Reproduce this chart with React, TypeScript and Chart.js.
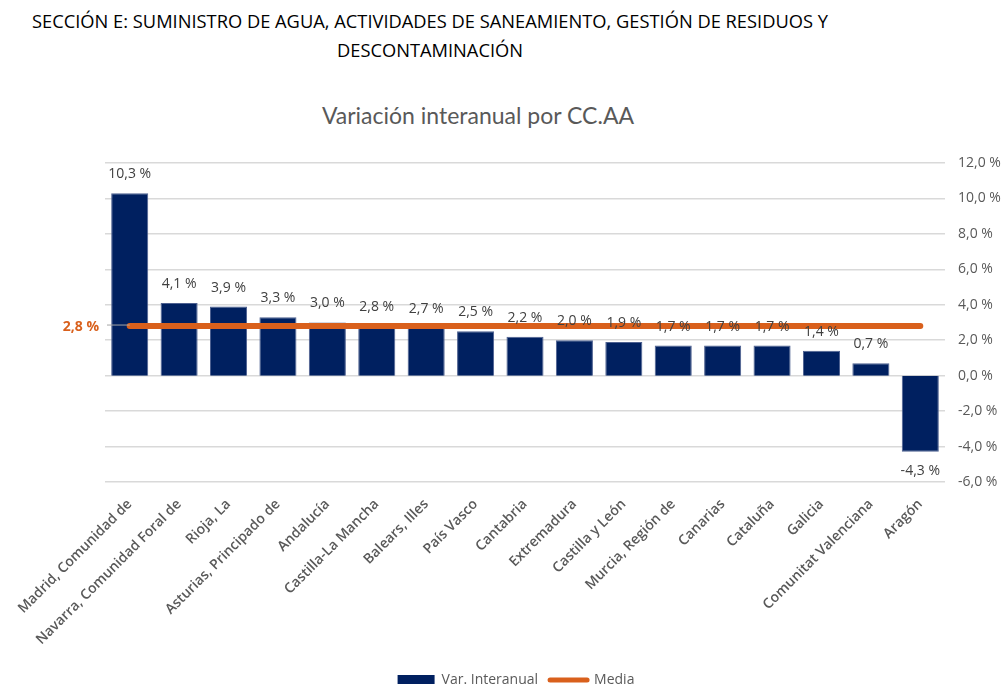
import React, { useEffect, useRef } from "react";
import { Chart, registerables } from "chart.js";

Chart.register(...registerables);

const categories = [
  "Madrid, Comunidad de",
  "Navarra, Comunidad Foral de",
  "Rioja, La",
  "Asturias, Principado de",
  "Andalucía",
  "Castilla-La Mancha",
  "Balears, Illes",
  "País Vasco",
  "Cantabria",
  "Extremadura",
  "Castilla y León",
  "Murcia, Región de",
  "Canarias",
  "Cataluña",
  "Galicia",
  "Comunitat Valenciana",
  "Aragón",
];

const variacion = [10.3, 4.1, 3.9, 3.3, 3.0, 2.8, 2.7, 2.5, 2.2, 2.0, 1.9, 1.7, 1.7, 1.7, 1.4, 0.7, -4.3];
const mediaValue = 2.8;
const media = categories.map(() => mediaValue);

const yMin = -6;
const yMax = 12;
const yStep = 2;

const NAVY = "#002060";
const ORANGE = "#D9601C";
const FONT = "'Open Sans', 'Noto Sans', sans-serif";

const fmt = (v: number) => v.toFixed(1).replace(".", ",") + " %";

const barLabels = {
  id: "barLabels",
  afterDatasetsDraw(chart: any) {
    const meta = chart.getDatasetMeta(0);
    const ctx = chart.ctx;
    ctx.save();
    ctx.font = `400 14px ${FONT}`;
    ctx.fillStyle = "#404040";
    ctx.textAlign = "center";
    ctx.textBaseline = "middle";
    meta.data.forEach((el: any, i: number) => {
      const v = variacion[i];
      const y = v >= 0 ? el.y - 19 : el.y + 19;
      ctx.fillText(fmt(v), el.x, y);
    });
    ctx.restore();
  },
};

const mediaLabel = {
  id: "mediaLabel",
  afterDatasetsDraw(chart: any) {
    const ctx = chart.ctx;
    const y = chart.scales.y.getPixelForValue(mediaValue);
    const left = chart.chartArea.left;
    const firstX = chart.getDatasetMeta(1).data[0].x;
    ctx.save();
    ctx.strokeStyle = "#A6A6A6";
    ctx.lineWidth = 1;
    ctx.beginPath();
    ctx.moveTo(left + 2, y - 1);
    ctx.lineTo(firstX, y - 1);
    ctx.stroke();
    ctx.font = `700 14px ${FONT}`;
    ctx.fillStyle = ORANGE;
    ctx.textAlign = "right";
    ctx.textBaseline = "middle";
    ctx.fillText(fmt(mediaValue), left - 6, y + 1);
    ctx.restore();
  },
};

export default function App() {
  const ref = useRef<HTMLCanvasElement | null>(null);

  useEffect(() => {
    document.body.style.margin = "0";
    if (!ref.current) return;
    const chart = new Chart(ref.current, {
      type: "bar",
      data: {
        labels: categories,
        datasets: [
          {
            type: "bar",
            label: "Var. Interanual",
            data: variacion,
            backgroundColor: NAVY,
            borderColor: "#4d6090",
            borderWidth: 1,
            barPercentage: 0.75,
            categoryPercentage: 1,
            order: 2,
          },
          {
            type: "line",
            label: "Media",
            data: media,
            borderColor: ORANGE,
            backgroundColor: ORANGE,
            borderWidth: 6,
            borderCapStyle: "round",
            pointRadius: 0,
            pointHoverRadius: 0,
            order: 1,
          } as any,
        ],
      },
      options: {
        responsive: false,
        animation: false,
        layout: { padding: { left: 26, top: 163, right: 0, bottom: -13 } },
        scales: {
          x: {
            grid: { display: false },
            border: { display: false },
            ticks: {
              minRotation: 45,
              maxRotation: 45,
              autoSkip: false,
              color: "#595959",
              padding: 6,
              font: { family: FONT, size: 14, weight: 600 as any },
            },
            afterFit: (s: any) => {
              s.height = 179;
            },
          },
          yLeft: {
            position: "left",
            display: true,
            grid: { display: false },
            border: { display: false },
            ticks: { display: false },
            afterFit: (s: any) => {
              s.width = 79;
            },
          },
          y: {
            position: "right",
            min: yMin,
            max: yMax,
            border: { display: false },
            grid: { color: "#D9D9D9", lineWidth: 1.5, drawTicks: false },
            ticks: {
              stepSize: yStep,
              padding: 13,
              color: "#595959",
              font: { family: FONT, size: 14 },
              callback: (v: any) => fmt(Number(v)),
            },
            afterFit: (s: any) => {
              s.width = 61;
            },
          },
        },
        plugins: {
          tooltip: { enabled: false },
          legend: {
            position: "bottom",
            labels: {
              usePointStyle: true,
              pointStyleWidth: 37,
              boxWidth: 37,
              boxHeight: 10,
              padding: 12,
              color: "#595959",
              font: { family: FONT, size: 14 },
              generateLabels: (c: any) =>
                Chart.defaults.plugins.legend.labels
                  .generateLabels(c)
                  .map((l: any) =>
                    l.datasetIndex === 0
                      ? { ...l, pointStyle: "rect", lineWidth: 0 }
                      : { ...l, pointStyle: "line", lineWidth: 5, lineCap: "round" }
                  )
                  .sort((a: any, b: any) => a.datasetIndex - b.datasetIndex),
            },
          },
        },
      },
      plugins: [barLabels, mediaLabel],
    });
    return () => chart.destroy();
  }, []);

  return (
    <div style={{ position: "relative", width: 1006, height: 684, background: "#fff", overflow: "hidden" }}>
      <div
        style={{
          position: "absolute",
          left: 0,
          width: 860,
          top: 6,
          textAlign: "center",
          fontFamily: FONT,
          fontSize: 18.3,
          lineHeight: "29px",
          color: "#000",
          whiteSpace: "nowrap",
        }}
      >
        SECCIÓN E: SUMINISTRO DE AGUA, ACTIVIDADES DE SANEAMIENTO, GESTIÓN DE RESIDUOS Y
        <br />
        DESCONTAMINACIÓN
      </div>
      <div
        style={{
          position: "absolute",
          left: 0,
          width: 956,
          top: 100,
          textAlign: "center",
          fontFamily: "Lato, sans-serif",
          fontSize: 23,
          lineHeight: "30px",
          color: "#595959",
        }}
      >
        Variación interanual por CC.AA
      </div>
      <canvas ref={ref} width={1006} height={684} style={{ position: "absolute", left: 0, top: 0 }} />
    </div>
  );
}
